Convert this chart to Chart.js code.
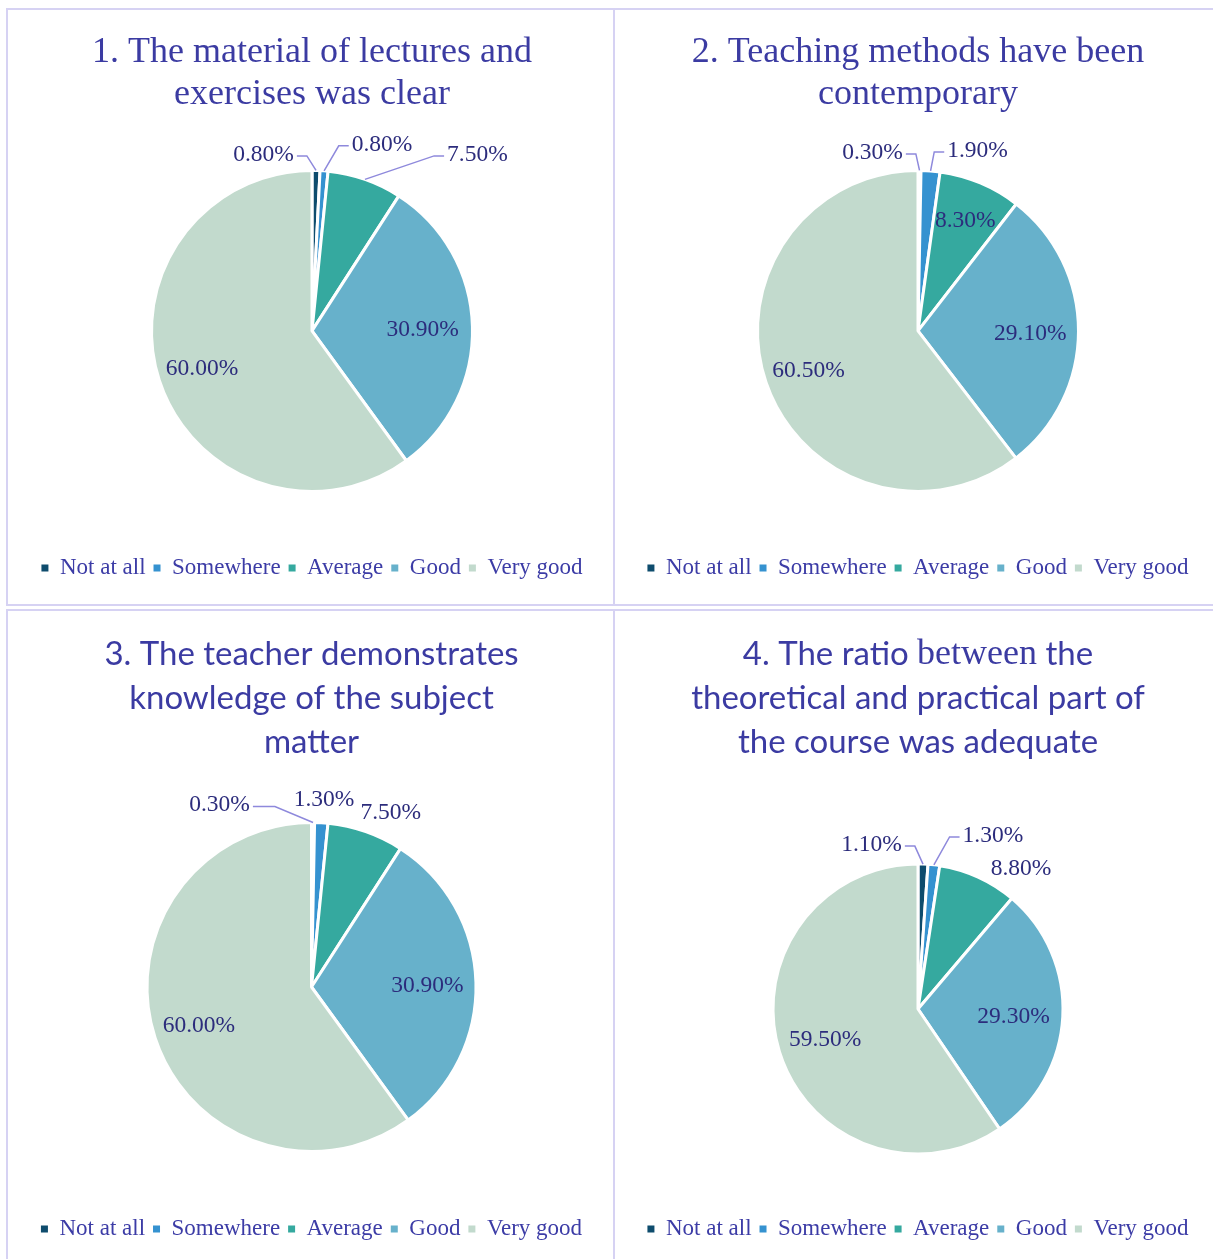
<!DOCTYPE html>
<html>
<head>
<meta charset="utf-8">
<script src="https://cdn.jsdelivr.net/npm/chart.js@4.4.1/dist/chart.umd.min.js"></script>
<style>
  html, body { margin: 0; padding: 0; background: #fff; overflow: hidden; }
  body { width: 1213px; height: 1259px; position: relative; }
  .panel { position: absolute; border: 2px solid #d6d2f3; box-sizing: border-box; }
  canvas { position: absolute; }
</style>
</head>
<body>
<div class="panel" style="left:6px; top:8px; width:609px; height:598px;"></div>
<div class="panel" style="left:613px; top:8px; width:620px; height:598px;"></div>
<div class="panel" style="left:6px; top:609px; width:609px; height:670px;"></div>
<div class="panel" style="left:613px; top:609px; width:620px; height:670px;"></div>
<canvas id="q1" width="603" height="592" style="left:9px; top:11px;"></canvas>
<canvas id="q2" width="604" height="592" style="left:616px; top:11px;"></canvas>
<canvas id="q3" width="603" height="647" style="left:9px; top:612px;"></canvas>
<canvas id="q4" width="604" height="647" style="left:616px; top:612px;"></canvas>
<script>
const answers = ['Not at all', 'Somewhere', 'Average', 'Good', 'Very good'];

const q1Values = [0.8, 0.8, 7.5, 30.9, 60.0];
const q2Values = [0.3, 1.9, 8.3, 29.1, 60.5];
const q3Values = [0.3, 1.3, 7.5, 30.9, 60.0];
const q4Values = [1.1, 1.3, 8.8, 29.3, 59.5];

const q1Title = ['1. The material of lectures and', 'exercises was clear'];
const q2Title = ['2. Teaching methods have been', 'contemporary'];
const q3Title = ['3. The teacher demonstrates', 'knowledge of the subject', 'matter'];
const q4Title = ['4. The ratio between the', 'theoretical and practical part of', 'the course was adequate'];

const sliceColors = ['#0e4c6d', '#3592d0', '#35a99f', '#67b1cb', '#c2dacd'];
const serif = '"Liberation Serif", "Times New Roman", serif';
const sans = 'Lato, "Open Sans", sans-serif';

// label placement: r = fraction of radius inside the slice,
// dx/dy = offset from the slice's outer edge, leader = draw a connector line
const q1Place = [
    { dx: -52.5, dy: -18.5, leader: true },
    { dx: 58, dy: -29, leader: true },
    { dx: 112.5, dy: -27.5, leader: true },
    { r: 0.69 },
    { r: 0.72 }
];
const q2Place = [
    { dx: -47, dy: -20.5, leader: true },
    { dx: 47, dy: -23, leader: true },
    { r: 0.76 },
    { r: 0.70 },
    { r: 0.72 }
];
const q3Place = [
    { dx: -93.5, dy: -20, leader: true, run: 22 },
    { dx: 2.7, dy: -25 },
    { dx: 25, dy: -21 },
    { r: 0.705 },
    { r: 0.72 }
];
const q4Place = [
    { dx: -51.5, dy: -22, leader: true },
    { dx: 59, dy: -32, leader: true },
    { dx: 43, dy: -11 },
    { r: 0.66 },
    { r: 0.67 }
];

const pieLabels = {
    id: 'pieLabels',
    afterDatasetsDraw(chart, args, opts) {
        const ctx = chart.ctx;
        const meta = chart.getDatasetMeta(0);
        const values = chart.data.datasets[0].data;
        ctx.save();
        ctx.font = '23.5px ' + serif;
        ctx.textAlign = 'center';
        ctx.textBaseline = 'middle';
        meta.data.forEach((arc, i) => {
            const p = opts.place[i];
            const { x, y, startAngle, endAngle, outerRadius } =
                arc.getProps(['x', 'y', 'startAngle', 'endAngle', 'outerRadius'], true);
            const mid = (startAngle + endAngle) / 2;
            const text = values[i].toFixed(2) + '%';
            let tx, ty;
            if (p.r !== undefined) {
                tx = x + Math.cos(mid) * outerRadius * p.r;
                ty = y + Math.sin(mid) * outerRadius * p.r;
            } else {
                const ax = x + Math.cos(mid) * outerRadius;
                const ay = y + Math.sin(mid) * outerRadius;
                tx = ax + p.dx;
                ty = ay + p.dy;
                if (p.leader) {
                    const w = ctx.measureText(text).width;
                    const side = p.dx < 0 ? 1 : -1;
                    const edge = tx + side * (w / 2 + 3);
                    const ly = ty + 4;
                    ctx.beginPath();
                    ctx.moveTo(edge, ly);
                    ctx.lineTo(edge + side * (p.run || 10), ly);
                    ctx.lineTo(ax, ay);
                    ctx.strokeStyle = '#8e89dc';
                    ctx.lineWidth = 1.5;
                    ctx.stroke();
                }
            }
            ctx.fillStyle = '#2c2c7c';
            ctx.fillText(text, tx, ty + 2.5);
        });
        ctx.restore();
    }
};

// the fourth title mixes faces: one word is set in the serif face
const mixedTitle = {
    id: 'mixedTitle',
    afterDraw(chart, args, opts) {
        if (!opts.serifWords) return;
        const t = chart.options.plugins.title;
        const block = chart.titleBlock;
        const ctx = chart.ctx;
        const lh = parseFloat(t.font.lineHeight);
        const cx = (block.left + block.right) / 2;
        ctx.save();
        ctx.textBaseline = 'middle';
        ctx.textAlign = 'left';
        ctx.fillStyle = opts.color;
        t.text.forEach((line, li) => {
            const y = block.top + t.padding.top + lh / 2 + li * lh;
            const runs = line.split(/(\s+)/).map(w => {
                const isSerif = opts.serifWords.includes(w);
                return { w, isSerif, font: isSerif ? '36px ' + serif : t.font.size + 'px ' + sans };
            });
            let total = 0;
            runs.forEach(r => { ctx.font = r.font; r.width = ctx.measureText(r.w).width; total += r.width; });
            let x = cx - total / 2;
            runs.forEach(r => {
                ctx.font = r.font;
                ctx.fillText(r.w, x, y + (r.isSerif ? 1 : 0));
                x += r.width;
            });
        });
        ctx.restore();
    }
};

function makePie(id, values, title, place, cfg) {
    const ctx = document.getElementById(id).getContext('2d');
    return new Chart(ctx, {
        type: 'pie',
        data: {
            labels: answers,
            datasets: [{
                data: values,
                backgroundColor: sliceColors,
                borderColor: '#ffffff',
                borderWidth: 3,
                radius: cfg.radius
            }]
        },
        options: {
            responsive: false,
            animation: false,
            layout: { padding: { left: cfg.padLeft, right: 0, top: 0, bottom: cfg.padBottom } },
            plugins: {
                title: {
                    display: true,
                    text: title,
                    color: cfg.serifWords ? 'rgba(0,0,0,0)' : '#3b3ba2',
                    font: { family: cfg.titleFont, size: cfg.titleSize, weight: 'normal', lineHeight: cfg.titleLine },
                    padding: { top: cfg.titleTop, bottom: cfg.titleBottom }
                },
                legend: {
                    position: 'bottom',
                    labels: {
                        boxWidth: 7,
                        boxHeight: 7,
                        padding: 8,
                        color: '#3c3ca6',
                        font: { family: serif, size: 23 },
                        generateLabels(chart) {
                            const items = Chart.overrides.pie.plugins.legend.labels.generateLabels(chart);
                            items.forEach(it => { it.lineWidth = 0; });
                            return items;
                        }
                    }
                },
                tooltip: { enabled: false },
                pieLabels: { place: place },
                mixedTitle: { serifWords: cfg.serifWords, color: '#3b3ba2' }
            }
        },
        plugins: [pieLabels, mixedTitle]
    });
}

makePie('q1', q1Values, q1Title, q1Place, {
    radius: 160.5, padLeft: 3, padBottom: 13.5,
    titleFont: serif, titleSize: 36, titleLine: '42px', titleTop: 21, titleBottom: -2.7
});
makePie('q2', q2Values, q2Title, q2Place, {
    radius: 160.5, padLeft: 0, padBottom: 13.5,
    titleFont: serif, titleSize: 36, titleLine: '42px', titleTop: 21, titleBottom: -2.7
});
makePie('q3', q3Values, q3Title, q3Place, {
    radius: 164.5, padLeft: 2, padBottom: 8.5,
    titleFont: sans, titleSize: 33, titleLine: '44px', titleTop: 20, titleBottom: 0.5
});
makePie('q4', q4Values, q4Title, q4Place, {
    radius: 145, padLeft: 0, padBottom: 8.5,
    titleFont: sans, titleSize: 33, titleLine: '44px', titleTop: 20, titleBottom: 44.5,
    serifWords: ['between']
});
</script>
</body>
</html>
